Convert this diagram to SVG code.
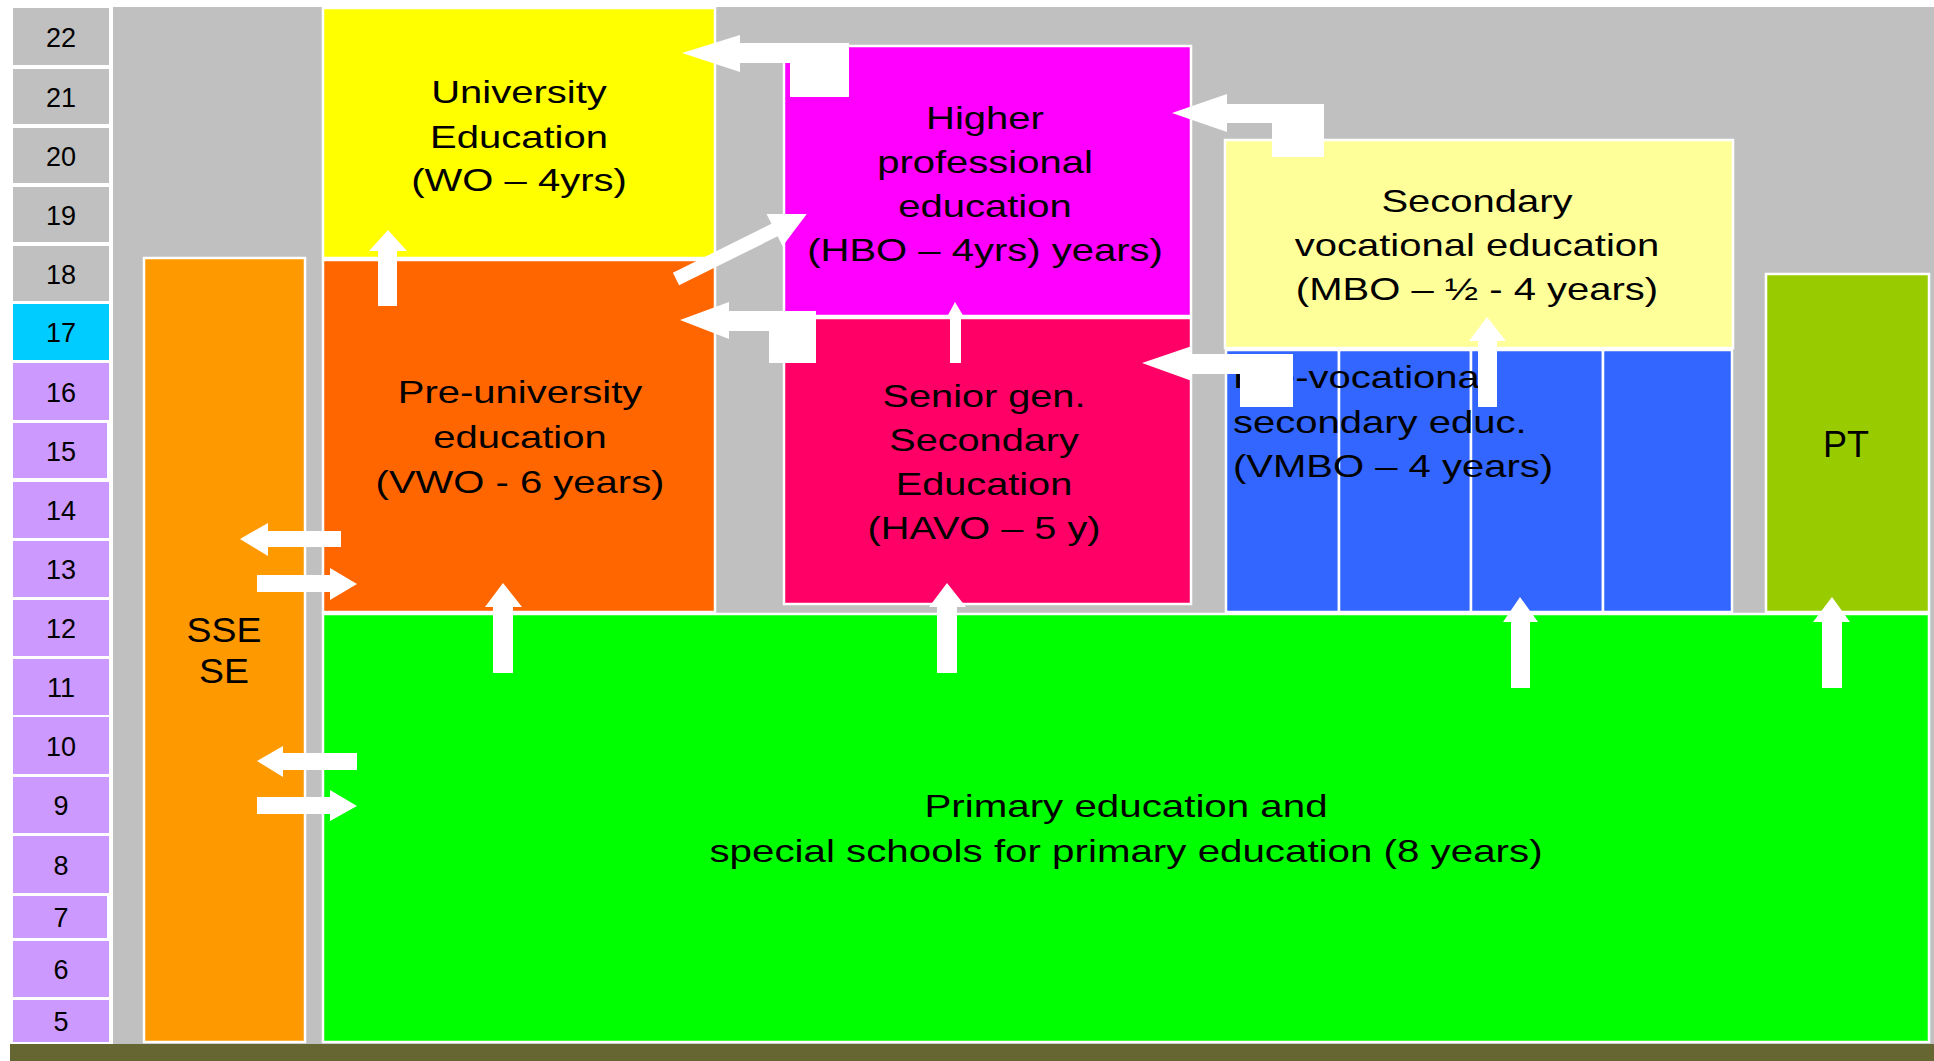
<svg xmlns="http://www.w3.org/2000/svg" width="1934" height="1061" viewBox="0 0 1934 1061">
<defs>
<style>
.t{font-family:"Liberation Sans",Arial,Helvetica,sans-serif;font-size:32px;fill:#000;text-anchor:middle}
.vl{font-family:"Liberation Sans",Arial,Helvetica,sans-serif;font-size:32px;fill:#000;text-anchor:start}
.a{font-family:"Liberation Sans",Arial,Helvetica,sans-serif;font-size:27px;fill:#000;text-anchor:middle}
.bx{stroke:#fff;stroke-width:2.5}
.ar{fill:#fff}
.ag{fill:#c0c0c0}
.cy{fill:#00ccff}
.lv{fill:#cc99ff}
</style>
</defs>
<rect width="1934" height="1061" fill="#fff"/>
<rect x="113" y="7" width="1821" height="1037" fill="#c0c0c0"/>
<rect x="10" y="1044" width="1924" height="17" fill="#666633"/>

<g id="ages">
<rect class="ag" x="13" y="8" width="96" height="57"/><text class="a" x="61" y="46.5">22</text>
<rect class="ag" x="13" y="69" width="96" height="55"/><text class="a" x="61" y="106.5">21</text>
<rect class="ag" x="13" y="128" width="96" height="55"/><text class="a" x="61" y="165.5">20</text>
<rect class="ag" x="13" y="187" width="96" height="55"/><text class="a" x="61" y="224.5">19</text>
<rect class="ag" x="13" y="246" width="96" height="55"/><text class="a" x="61" y="283.5">18</text>
<rect class="cy" x="13" y="304" width="96" height="56"/><text class="a" x="61" y="342">17</text>
<rect class="lv" x="13" y="363" width="96" height="57"/><text class="a" x="61" y="401.5">16</text>
<rect class="lv" x="13" y="423" width="94" height="55"/><text class="a" x="61" y="460.5">15</text>
<rect class="lv" x="13" y="482" width="96" height="56"/><text class="a" x="61" y="520">14</text>
<rect class="lv" x="13" y="541" width="96" height="56"/><text class="a" x="61" y="579">13</text>
<rect class="lv" x="13" y="600" width="96" height="56"/><text class="a" x="61" y="638">12</text>
<rect class="lv" x="13" y="659" width="96" height="56"/><text class="a" x="61" y="697">11</text>
<rect class="lv" x="13" y="717" width="96" height="57"/><text class="a" x="61" y="755.5">10</text>
<rect class="lv" x="13" y="777" width="96" height="56"/><text class="a" x="61" y="815">9</text>
<rect class="lv" x="13" y="836" width="96" height="57"/><text class="a" x="61" y="874.5">8</text>
<rect class="lv" x="13" y="896" width="94" height="42"/><text class="a" x="61" y="927">7</text>
<rect class="lv" x="13" y="941" width="96" height="56"/><text class="a" x="61" y="979">6</text>
<rect class="lv" x="13" y="1000" width="96" height="42"/><text class="a" x="61" y="1031">5</text>
</g>

<g id="sse">
<rect class="bx" x="144" y="258" width="161" height="784" fill="#ff9900"/>
<g transform="translate(224 0) scale(1.07 1)">
<text class="t" x="0" y="642" style="font-size:35px">SSE</text>
<text class="t" x="0" y="683" style="font-size:35px">SE</text>
</g>
</g>

<g id="wo">
<rect class="bx" x="323" y="8" width="392" height="250" fill="#ffff00"/>
<g transform="translate(519 0) scale(1.25 1)">
<text class="t" x="0" y="103">University</text>
<text class="t" x="0" y="148">Education</text>
<text class="t" x="0" y="191">(WO – 4yrs)</text>
</g>
</g>

<g id="vwo">
<rect class="bx" x="323" y="260" width="392" height="352" fill="#ff6600"/>
<g transform="translate(520 0) scale(1.25 1)">
<text class="t" x="0" y="403">Pre-university</text>
<text class="t" x="0" y="448">education</text>
<text class="t" x="0" y="493">(VWO - 6 years)</text>
</g>
</g>

<g id="hbo">
<rect class="bx" x="784" y="46" width="407" height="270" fill="#ff00ff"/>
<g transform="translate(985 0) scale(1.25 1)">
<text class="t" x="0" y="129">Higher</text>
<text class="t" x="0" y="173">professional</text>
<text class="t" x="0" y="217">education</text>
<text class="t" x="0" y="261">(HBO – 4yrs) years)</text>
</g>
</g>

<g id="havo">
<rect class="bx" x="784" y="318" width="407" height="286" fill="#ff0066"/>
<g transform="translate(984 0) scale(1.24 1)">
<text class="t" x="0" y="407">Senior gen.</text>
<text class="t" x="0" y="451">Secondary</text>
<text class="t" x="0" y="495">Education</text>
<text class="t" x="0" y="539">(HAVO – 5 y)</text>
</g>
</g>

<g id="mbo">
<rect class="bx" x="1225" y="140" width="508" height="208" fill="#ffff99"/>
<g transform="translate(1477 0) scale(1.25 1)">
<text class="t" x="0" y="212">Secondary</text>
<text class="t" x="0" y="256">vocational education</text>
<text class="t" x="0" y="300">(MBO – ½ - 4 years)</text>
</g>
</g>

<g id="vmbo">
<rect class="bx" x="1226" y="350" width="113" height="262" fill="#3366ff"/>
<rect class="bx" x="1339" y="350" width="132" height="262" fill="#3366ff"/>
<rect class="bx" x="1471" y="350" width="132" height="262" fill="#3366ff"/>
<rect class="bx" x="1603" y="350" width="129" height="262" fill="#3366ff"/>
<g transform="translate(1233 0) scale(1.25 1)">
<text class="vl" x="0" y="388">Pre-vocational</text>
<text class="vl" x="0" y="433">secondary educ.</text>
<text class="vl" x="0" y="477">(VMBO – 4 years)</text>
</g>
</g>

<g id="pt">
<rect class="bx" x="1766" y="274" width="163" height="338" fill="#99cc00"/>
<text class="t" x="1846" y="457" style="font-size:36px">PT</text>
</g>

<g id="primary">
<rect class="bx" x="323" y="614" width="1606" height="428" fill="#00ff00"/>
<g transform="translate(1126 0) scale(1.26 1)">
<text class="t" x="0" y="817">Primary education and</text>
<text class="t" x="0" y="862">special schools for primary education (8 years)</text>
</g>
</g>

<g id="connectors" class="ar">
<polygon points="378,306 378,251 369,251 388,230 407,251 397,251 397,306"/>
<polygon points="682,53 740,35 740,43 849,43 849,97 790,97 790,63 740,63 740,72"/>
<polygon transform="translate(676 279) rotate(-26.4)" points="0,-7 110,-7 110,-18 146,0 110,18 110,7 0,7"/>
<polygon points="680,320 729,302 729,311 816,311 816,363 769,363 769,331 729,331 729,339"/>
<polygon points="950,363 950,317 947,317 955,302 964,317 961,317 961,363"/>
<polygon points="1172,113 1227,94 1227,104 1324,104 1324,157 1272,157 1272,123 1227,123 1227,132"/>
<polygon points="1142,363 1192,346 1192,354 1293,354 1293,407 1240,407 1240,374 1192,374 1192,381"/>
<polygon points="1478,407 1478,341 1469,341 1487,317 1506,341 1497,341 1497,407"/>
<polygon points="493,673 493,607 485,607 503,583 522,607 513,607 513,673"/>
<polygon points="937,673 937,607 929,607 947,583 966,607 957,607 957,673"/>
<polygon points="1511,688 1511,622 1503,622 1520,597 1538,622 1530,622 1530,688"/>
<polygon points="1822,688 1822,622 1813,622 1832,597 1850,622 1842,622 1842,688"/>
<polygon points="240,539 268,523 268,531 341,531 341,547 268,547 268,556"/>
<polygon points="257,575 330,575 330,568 357,584 330,600 330,592 257,592"/>
<polygon points="257,761 283,746 283,753 357,753 357,770 283,770 283,777"/>
<polygon points="257,797 330,797 330,790 357,806 330,821 330,814 257,814"/>
</g>
</svg>
